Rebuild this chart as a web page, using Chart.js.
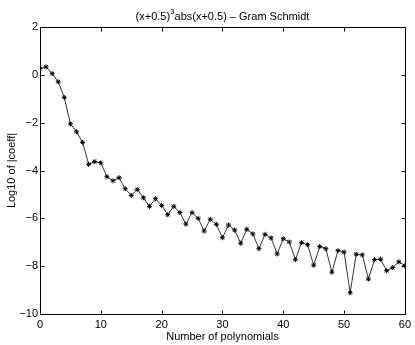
<!DOCTYPE html>
<html>
<head>
<meta charset="utf-8">
<script src="https://cdn.jsdelivr.net/npm/chart.js@4"></script>
<style>
  html, body { margin: 0; padding: 0; background: #fff; }
  #wrap { width: 415px; height: 345px; }
</style>
</head>
<body>
<div id="wrap"><canvas id="myChart" width="415" height="345"></canvas></div>
<script>
// data
let nPoly = [];
for (let i = 0; i <= 60; i++) nPoly.push(i);
let logCoeff = [
  0.26, 0.33, 0.05, -0.29, -0.95, -2.05, -2.38, -2.82, -3.74, -3.63,
  -3.68, -4.26, -4.43, -4.30, -4.76, -5.04, -4.79, -5.14, -5.50, -5.18,
  -5.46, -5.85, -5.50, -5.76, -6.24, -5.76, -6.00, -6.53, -6.04, -6.25,
  -6.81, -6.28, -6.49, -7.04, -6.46, -6.65, -7.27, -6.67, -6.82, -7.49,
  -6.85, -6.99, -7.73, -7.02, -7.10, -7.96, -7.18, -7.27, -8.25, -7.35,
  -7.41, -9.11, -7.50, -7.53, -8.54, -7.73, -7.71, -8.19, -8.06, -7.82,
  -7.98
];
let xTicks = [0, 10, 20, 30, 40, 50, 60];
let yTicks = [2, 0, -2, -4, -6, -8, -10];

let titleMain = '(x+0.5)';
let titleSup = '3';
let titleRest = 'abs(x+0.5) \u2013 Gram Schmidt';

const FONT = "'Liberation Sans', Arial, sans-serif";

//frame, inward ticks, title
const boxPlugin = {
  id: 'box',
  afterDraw(chart) {
    const ctx = chart.ctx;
    const a = chart.chartArea;
    const xs = chart.scales.x;
    const ys = chart.scales.y;
    const L = Math.round(a.left) + 0.5, R = Math.round(a.right) + 0.5;
    const T = Math.round(a.top) + 0.5, B = Math.round(a.bottom) + 0.5;
    ctx.save();
    ctx.strokeStyle = '#000';
    ctx.lineWidth = 1;
    ctx.strokeRect(L, T, R - L, B - T);
    ctx.beginPath();
    xTicks.forEach(v => {
      const px = Math.round(xs.getPixelForValue(v)) + 0.5;
      ctx.moveTo(px, B); ctx.lineTo(px, B - 4);
      ctx.moveTo(px, T); ctx.lineTo(px, T + 4);
    });
    yTicks.forEach(v => {
      const py = Math.round(ys.getPixelForValue(v)) + 0.5;
      ctx.moveTo(L, py); ctx.lineTo(L + 4, py);
      ctx.moveTo(R, py); ctx.lineTo(R - 4, py);
    });
    ctx.stroke();

    // title with superscript
    ctx.fillStyle = '#000';
    ctx.textBaseline = 'alphabetic';
    ctx.textAlign = 'left';
    ctx.font = '11px ' + FONT;
    const w1 = ctx.measureText(titleMain).width;
    const w3 = ctx.measureText(titleRest).width;
    ctx.font = '8px ' + FONT;
    const w2 = ctx.measureText(titleSup).width;
    const cx = (a.left + a.right) / 2;
    let x0 = cx - (w1 + w2 + w3) / 2;
    ctx.font = '11px ' + FONT;
    ctx.fillText(titleMain, x0, 20);
    ctx.font = '8px ' + FONT;
    ctx.fillText(titleSup, x0 + w1, 14);
    ctx.font = '11px ' + FONT;
    ctx.fillText(titleRest, x0 + w1 + w2, 20);
    ctx.restore();
  }
};

let ctx = document.getElementById('myChart');

let myChart = new Chart(ctx, {
  type: 'line',
  data: {
    datasets: [{
      data: nPoly.map((n, i) => ({x: n, y: logCoeff[i]})),
      borderColor: '#000',
      borderWidth: 0.8,
      pointStyle: 'star',
      pointRadius: 2.5,
      pointBorderColor: '#000',
      pointBorderWidth: 1,
      pointBackgroundColor: '#000',
      tension: 0,
      fill: false
    }]
  },
  options: {
    responsive: false,
    animation: false,
    devicePixelRatio: 1,
    layout: { padding: { top: 27, right: 10, bottom: 0, left: 0 } },
    plugins: {
      legend: { display: false },
      tooltip: { enabled: false },
      title: { display: false }
    },
    scales: {
      x: {
        type: 'linear',
        min: 0,
        max: 60,
        afterBuildTicks: s => { s.ticks = xTicks.map(v => ({value: v})); },
        afterFit: s => { s.height = 31; },
        grid: { display: false, drawTicks: false },
        border: { display: false },
        ticks: {
          padding: 4,
          color: '#000',
          font: { family: FONT, size: 11 },
          maxRotation: 0,
          callback: v => String(v).replace('-', '\u2212')
        },
        title: {
          display: true,
          text: 'Number of polynomials',
          color: '#000',
          font: { family: FONT, size: 11 },
          padding: { top: 0, bottom: 1 }
        }
      },
      y: {
        type: 'linear',
        min: -10,
        max: 2,
        afterBuildTicks: s => { s.ticks = yTicks.map(v => ({value: v})); },
        afterFit: s => { s.width = 40; },
        grid: { display: false, drawTicks: false },
        border: { display: false },
        ticks: {
          padding: 2,
          color: '#000',
          font: { family: FONT, size: 11 },
          callback: v => String(v).replace('-', '\u2212')
        },
        title: {
          display: true,
          text: 'Log10 of |coeff|',
          color: '#000',
          font: { family: FONT, size: 11 },
          padding: { top: 5.5, bottom: 0 }
        }
      }
    }
  },
  plugins: [boxPlugin]
});
</script>
</body>
</html>
